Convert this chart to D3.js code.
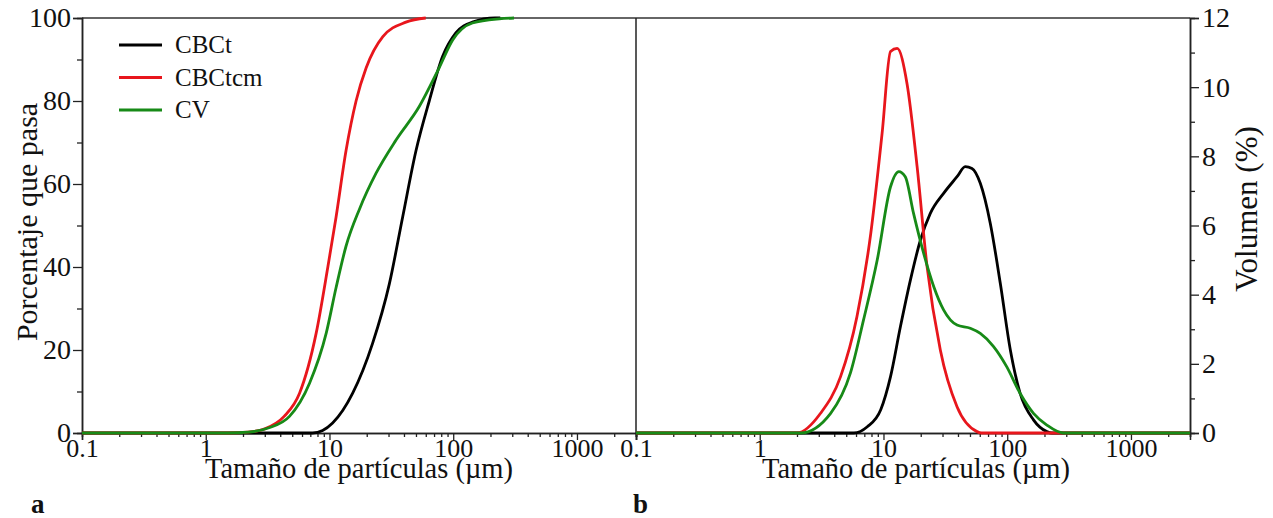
<!DOCTYPE html>
<html><head><meta charset="utf-8">
<script src="https://cdn.jsdelivr.net/npm/d3@7"></script>
<style>
body{margin:0;background:#fff;}
</style></head>
<body><svg id="c" width="1273" height="518"></svg>
<script>
// ---- data ----
const seriesNames = ["CBCt", "CBCtcm", "CV"];
const seriesColors = ["#000000", "#e8161c", "#178a17"];

// Panel a: cumulative % passing
const cumCBCtSize  = [0.1, 5, 7.3, 8.8, 10.6, 15.4, 22.3, 30.5, 39, 50, 64, 82, 105, 143, 218, 240];
const cumCBCtVal   = [0, 0, 0, 0.6, 2.4, 9.6, 21.6, 36, 52, 68, 80, 90.7, 96.4, 99, 100, 100];
const cumCBCtcmSize= [0.1, 1.5, 2.2, 3.0, 4.3, 5.73, 7.8, 9.7, 11.3, 13.6, 16.4, 19.8, 27, 41.5, 60];
const cumCBCtcmVal = [0, 0, 0.2, 1, 4, 9.6, 24, 40, 52, 68, 80, 88, 95.5, 99, 100];
const cumCVSize    = [0.1, 1.5, 2.2, 3.2, 4.75, 6.9, 9.4, 11.3, 13.6, 17.5, 23.8, 34.5, 53, 77, 99, 143, 236, 310];
const cumCVVal     = [0, 0, 0.2, 1.2, 4, 12, 24, 35, 45, 54, 62.6, 70.6, 78.6, 88, 94.7, 98.8, 99.8, 100];

// Panel b: volume %
const volCBCtSize  = [0.1, 5.77, 7.4, 9.5, 11.4, 13.7, 16.5, 19.9, 23.9, 30.6, 39.3, 45.8, 51.9, 60.6, 73, 87.9, 106, 127, 163, 209, 230, 3000];
const volCBCtVal   = [0, 0, 0.18, 0.67, 1.63, 3.07, 4.42, 5.58, 6.35, 6.93, 7.41, 7.7, 7.65, 7.22, 6.06, 4.33, 2.4, 1.15, 0.38, 0.04, 0, 0];
const volCBCtcmSize= [0.1, 2.0, 3.1, 4.5, 6.1, 7.9, 9.75, 11.4, 12.9, 15.5, 18.7, 22.5, 28.8, 39.3, 57, 62, 3000];
const volCBCtcmVal = [0, 0, 0.57, 1.63, 3.36, 5.78, 8.67, 11.03, 11.12, 10.1, 7.7, 4.81, 2.4, 0.76, 0.04, 0, 0];
const volCVSize    = [0.1, 2.14, 3.74, 5.4, 6.9, 8.9, 11.4, 13.3, 15, 17.5, 21.1, 25.5, 30.6, 39.3, 50.3, 60.6, 77.6, 99, 127, 163, 209, 284, 3000];
const volCVVal     = [0, 0, 0.57, 1.73, 3.27, 5.0, 7.12, 7.56, 7.41, 6.35, 5.2, 4.23, 3.56, 3.12, 3.03, 2.88, 2.5, 1.92, 1.15, 0.57, 0.23, 0, 0];

const xMajor = [0.1, 1, 10, 100, 1000];
const xMinor = [0.2,0.3,0.4,0.5,0.6,0.7,0.8,0.9,2,3,4,5,6,7,8,9,20,30,40,50,60,70,80,90,200,300,400,500,600,700,800,900,2000,3000];
const yLeftMajor = [0, 20, 40, 60, 80, 100];
const yLeftMinor = [10, 30, 50, 70, 90];
const yRightMajor = [0, 2, 4, 6, 8, 10, 12];
const yRightMinor = [1, 3, 5, 7, 9, 11];

// ---- layout ----
const FONT = "'Liberation Serif', 'Times New Roman', 'DejaVu Serif', serif";
const svg = d3.select("#c");
const yTop = 18, yBot = 433;
const xa = d3.scaleLog().domain([0.1, 3000]).range([82, 636]);
const xb = d3.scaleLog().domain([0.1, 3000]).range([636, 1190]);
const ya = d3.scaleLinear().domain([0, 100]).range([yBot, yTop]);
const yb = d3.scaleLinear().domain([0, 12]).range([yBot, yTop]);

function frame(x0, x1){
  svg.append("line").attr("x1",x0).attr("x2",x1).attr("y1",yTop).attr("y2",yTop).attr("stroke","#333").attr("stroke-width",1.3);
}
frame(82, 636); frame(636, 1190);

function styleAxis(g, fs){
  g.attr("font-family", null);
  g.select(".domain").attr("stroke","#222").attr("stroke-width",1.5);
  g.selectAll(".tick line").attr("stroke","#222").attr("stroke-width",1.3);
  g.selectAll("text").style("font-size",(fs||26)+"px").style("font-family",FONT).attr("fill","#111");
}

// x axes
[xa, xb].forEach(x=>{
  const gMin = svg.append("g").attr("transform",`translate(0,${yBot})`)
    .call(d3.axisBottom(x).tickValues(xMinor).tickSize(4).tickFormat(""));
  styleAxis(gMin);
  const g = svg.append("g").attr("transform",`translate(0,${yBot})`)
    .call(d3.axisBottom(x).tickValues(xMajor).tickSize(7).tickPadding(-1).tickFormat(d=>String(d)));
  styleAxis(g, 26);
});

// left y axis
let g = svg.append("g").attr("transform","translate(82,0)")
  .call(d3.axisLeft(ya).tickValues(yLeftMinor).tickSize(5).tickFormat(""));
styleAxis(g);
g = svg.append("g").attr("transform","translate(82,0)")
  .call(d3.axisLeft(ya).tickValues(yLeftMajor).tickSize(9).tickPadding(2));
styleAxis(g, 28);
// separator (panel b left)
svg.append("line").attr("x1",636).attr("x2",636).attr("y1",yTop).attr("y2",yBot).attr("stroke","#222").attr("stroke-width",1.5);
// right y axis
g = svg.append("g").attr("transform","translate(1190,0)")
  .call(d3.axisRight(yb).tickValues(yRightMinor).tickSize(5).tickFormat(""));
styleAxis(g);
g = svg.append("g").attr("transform","translate(1190,0)")
  .call(d3.axisRight(yb).tickValues(yRightMajor).tickSize(9).tickPadding(3));
styleAxis(g, 28);

// lines
function draw(x, y, sizes, vals, color){
  const pts = sizes.map((s,i)=>[s, vals[i]]);
  svg.append("path").datum(pts)
    .attr("d", d3.line().x(d=>x(d[0])).y(d=>y(d[1])).curve(d3.curveMonotoneX))
    .attr("fill","none").attr("stroke",color).attr("stroke-width",2.8).attr("stroke-linejoin","round");
}
draw(xa, ya, cumCBCtSize, cumCBCtVal, seriesColors[0]);
draw(xa, ya, cumCBCtcmSize, cumCBCtcmVal, seriesColors[1]);
draw(xa, ya, cumCVSize, cumCVVal, seriesColors[2]);
draw(xb, yb, volCBCtSize, volCBCtVal, seriesColors[0]);
draw(xb, yb, volCBCtcmSize, volCBCtcmVal, seriesColors[1]);
draw(xb, yb, volCVSize, volCVVal, seriesColors[2]);

function txt(){ return svg.append("text").style("font-family",FONT).attr("fill","#111"); }

// legend
seriesNames.forEach((n,i)=>{
  const yy = 45 + i*32.5;
  svg.append("line").attr("x1",119).attr("x2",162).attr("y1",yy).attr("y2",yy)
    .attr("stroke",seriesColors[i]).attr("stroke-width",3);
  txt().attr("x",175).attr("y",yy+8).style("font-size","25px").text(n);
});

// titles
txt().attr("x",359).attr("y",478).attr("text-anchor","middle").style("font-size","28.5px").text("Tamaño de partículas (µm)");
txt().attr("x",916).attr("y",478).attr("text-anchor","middle").style("font-size","28.5px").text("Tamaño de partículas (µm)");
txt().attr("transform","translate(37,222) rotate(-90)").attr("text-anchor","middle").style("font-size","30px").text("Porcentaje que pasa");
txt().attr("transform","translate(1257,209) rotate(-90)").attr("text-anchor","middle").style("font-size","31px").text("Volumen (%)");
txt().attr("x",31).attr("y",513).style("font-size","27px").style("font-weight","bold").text("a");
txt().attr("x",633).attr("y",513).style("font-size","27px").style("font-weight","bold").text("b");
</script></body></html>
